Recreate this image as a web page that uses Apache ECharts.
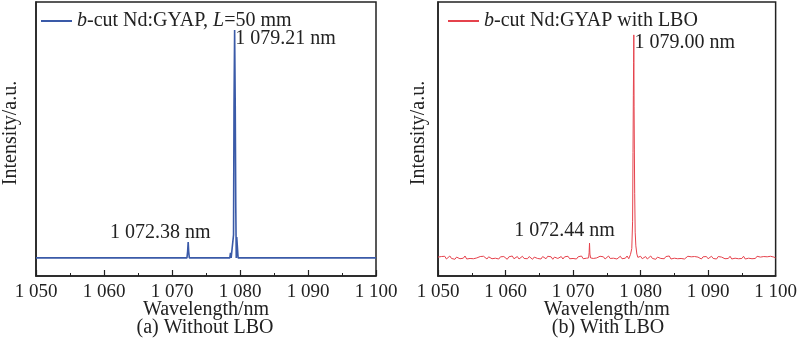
<!DOCTYPE html>
<html><head><meta charset="utf-8">
<script src="https://cdn.jsdelivr.net/npm/echarts@6/dist/echarts.min.js"></script>
<style>html,body{margin:0;padding:0;background:#fff}#c{width:800px;height:356px}</style>
</head><body><div id="c"></div>
<script>
// x-axis ticks
const xMin = 1050, xMax = 1100, xStep = 10;
// (a) Without LBO: wavelength / intensity pairs
const blueX = [1050, 1072.2, 1072.3, 1072.38, 1072.45, 1072.55, 1078.5, 1078.6, 1078.7, 1078.95, 1079.05, 1079.12, 1079.21, 1079.3, 1079.38, 1079.45, 1079.52, 1079.58, 1079.66, 1079.72, 1100];
const blueY = [0.066, 0.066, 0.09, 0.124, 0.09, 0.066, 0.066, 0.084, 0.066, 0.066, 0.15, 0.62, 0.898, 0.62, 0.25, 0.066, 0.142, 0.14, 0.14, 0.066, 0.066];
// (b) With LBO: noisy baseline sampled every 0.25 nm from 1050
const redBaseStart = 1050, redBaseStep = 0.25;
const redBase = [
0.069,0.063,0.071,0.065,0.072,0.062,0.068,0.073,0.064,0.070,0.061,0.069,0.072,0.063,0.070,0.065,0.073,0.062,0.069,0.064,
0.071,0.063,0.070,0.066,0.061,0.071,0.064,0.072,0.065,0.062,0.070,0.073,0.063,0.069,0.065,0.072,0.062,0.070,0.064,0.071,
0.066,0.061,0.070,0.065,0.073,0.063,0.069,0.071,0.062,0.068,0.072,0.064,0.070,0.063,0.071,0.065,0.061,0.069,0.072,0.064,
0.070,0.062,0.071,0.066,0.063,0.072,0.065,0.070,0.061,0.069,0.073,0.064,0.068,0.071,0.062,0.070,0.065,0.072,0.063,0.069,
0.064,0.071,0.062,0.070,0.066,0.073,0.063,0.069,0.065,0.072,0.062,0.070,0.064,0.071,0.066,0.063,0.072,0.065,0.070,0.062,
0.069,0.073,0.064,0.070,0.065,0.071,0.062,0.069,0.072,0.063,0.070,0.065,0.073,0.063,0.069,0.064,0.071,0.062,0.070,0.065,
0.072,0.063,0.069,0.071,0.062,0.068,0.073,0.064,0.070,0.061,0.069,0.072,0.064,0.070,0.063,0.071,0.065,0.073,0.062,0.069,
0.065,0.072,0.063,0.070,0.064,0.071,0.062,0.069,0.072,0.065,0.070,0.063,0.071,0.064,0.069,0.073,0.062,0.070,0.065,0.071,
0.063,0.069,0.072,0.064,0.070,0.062,0.071,0.065,0.069,0.073,0.063,0.070,0.064,0.072,0.062,0.069,0.065,0.071,0.063,0.070,
0.064,0.072,0.062,0.069,0.065,0.071,0.063,0.070,0.064,0.072,0.065,0.069,0.062,0.071,0.064,0.070,0.063,0.072,0.065,0.069,
0.066];
const redPeakX = [1072.3, 1072.38, 1072.44, 1072.5, 1072.6, 1078.3, 1078.5, 1078.7, 1078.82, 1078.88, 1078.93, 1078.97, 1079.0, 1079.04, 1079.08, 1079.13, 1079.2, 1079.3, 1079.45, 1079.6];
const redPeakY = [0.066, 0.085, 0.12, 0.08, 0.066, 0.068, 0.078, 0.10, 0.2, 0.45, 0.66, 0.78, 0.88, 0.62, 0.46, 0.30, 0.16, 0.11, 0.08, 0.068];
const labelsA = [{text:'1 079.21 nm', x:1079.21, y:0.898}, {text:'1 072.38 nm', x:1072.38, y:0.124}];
const labelsB = [{text:'1 079.00 nm', x:1079.00, y:0.88}, {text:'1 072.44 nm', x:1072.44, y:0.12}];

const blueData = blueX.map((x,i)=>[x, blueY[i]]);
let redData = redBase.map((v,i)=>[redBaseStart + i*redBaseStep, v])
  .filter(p => !((p[0]>1072.25 && p[0]<1072.65) || (p[0]>1078.25 && p[0]<1079.65)));
redPeakX.forEach((x,i)=>redData.push([x, redPeakY[i]]));
redData.sort((a,b)=>a[0]-b[0]);

const FONT = 'Liberation Serif';
const FS = 20;
const fmt = v => { const s = String(v); return s[0] + ' ' + s.slice(1); };
function xAx(gi){ return {
  type:'value', gridIndex:gi, min:xMin, max:xMax, interval:xStep,
  name:'Wavelength/nm', nameLocation:'middle', nameGap:24, nameMoveOverlap:false,
  nameTextStyle:{fontFamily:FONT, fontSize:FS, color:'#222'},
  axisLine:{lineStyle:{color:'#222', width:1.5}},
  axisTick:{inside:true, length:6, lineStyle:{color:'#222', width:1.2}},
  minorTick:{show:true, splitNumber:2, length:3, lineStyle:{color:'#222', width:1}},
  axisLabel:{formatter:fmt, fontFamily:FONT, fontSize:19, color:'#222', margin:7},
  splitLine:{show:false}
};}
function yAx(gi, gap){ return {
  type:'value', gridIndex:gi, min:0, max:1,
  name:'Intensity/a.u.', nameLocation:'middle', nameGap:gap, nameRotate:90, nameMoveOverlap:false,
  nameTextStyle:{fontFamily:FONT, fontSize:FS, color:'#222', padding:[0,0,0,12]},
  axisLine:{show:true, lineStyle:{color:'#222', width:1.5}},
  axisTick:{show:false}, axisLabel:{show:false}, splitLine:{show:false}
};}
function mp(labels, offsets){ return {
  symbol:'circle', symbolSize:1, itemStyle:{color:'transparent'},
  data: labels.map((l,i)=>({coord:[l.x,l.y], value:l.text,
    label:{show:true, formatter:l.text, position:'inside', offset:offsets[i],
      fontFamily:FONT, fontSize:FS, color:'#222'}}))
};}
function leg(name, left, fmtStr){ return {
  data:[{name:name}], left:left, top:6, itemWidth:31, itemHeight:2, itemGap:4, icon:'rect',
  formatter:()=>fmtStr, width:400,
  textStyle:{fontFamily:FONT, fontSize:FS, color:'#222', overflow:'none',
    rich:{i:{fontStyle:'italic', fontFamily:FONT, fontSize:FS, color:'#222'},
          r:{fontStyle:'normal', fontFamily:FONT, fontSize:FS, color:'#222'}}}
};}

const chart = echarts.init(document.getElementById('c'));
chart.setOption({
  animation:false,
  textStyle:{fontFamily:FONT, fontSize:FS, color:'#222'},
  grid:[
    {left:34, right:424, top:2, bottom:80, show:true, borderColor:'#222', borderWidth:1.5},
    {left:438, right:21, top:2, bottom:80, show:true, borderColor:'#222', borderWidth:1.5}
  ],
  xAxis:[xAx(0), xAx(1)],
  yAxis:[yAx(0, 15), yAx(1, 9)],
  legend:[
    leg('b-cut Nd:GYAP, L=50 mm', 36, '{i|b}{r|-cut Nd:GYAP, }{i|L}{r|=50 mm}'),
    leg('b-cut Nd:GYAP with LBO', 443, '{i|b}{r|-cut Nd:GYAP with LBO}')
  ],
  graphic:[
    {type:'text', x:205, y:318, style:{text:'(a) Without LBO', fontFamily:FONT, fontSize:FS, fill:'#222', textAlign:'center'}},
    {type:'text', x:608, y:318, style:{text:'(b) With LBO', fontFamily:FONT, fontSize:FS, fill:'#222', textAlign:'center'}}
  ],
  series:[
    {type:'line', name:'b-cut Nd:GYAP, L=50 mm', xAxisIndex:0, yAxisIndex:0, data:blueData,
     showSymbol:false, lineStyle:{color:'#3a5aa8', width:1.6}, itemStyle:{color:'#3a5aa8'},
     markPoint: mp(labelsA, [[51,9],[-28,-9]]) },
    {type:'line', name:'b-cut Nd:GYAP with LBO', xAxisIndex:1, yAxisIndex:1, data:redData,
     showSymbol:false, lineStyle:{color:'#e5424c', width:1}, itemStyle:{color:'#e5424c'},
     markPoint: mp(labelsB, [[51,8],[-25,-12]]) }
  ]
});
</script></body></html>
